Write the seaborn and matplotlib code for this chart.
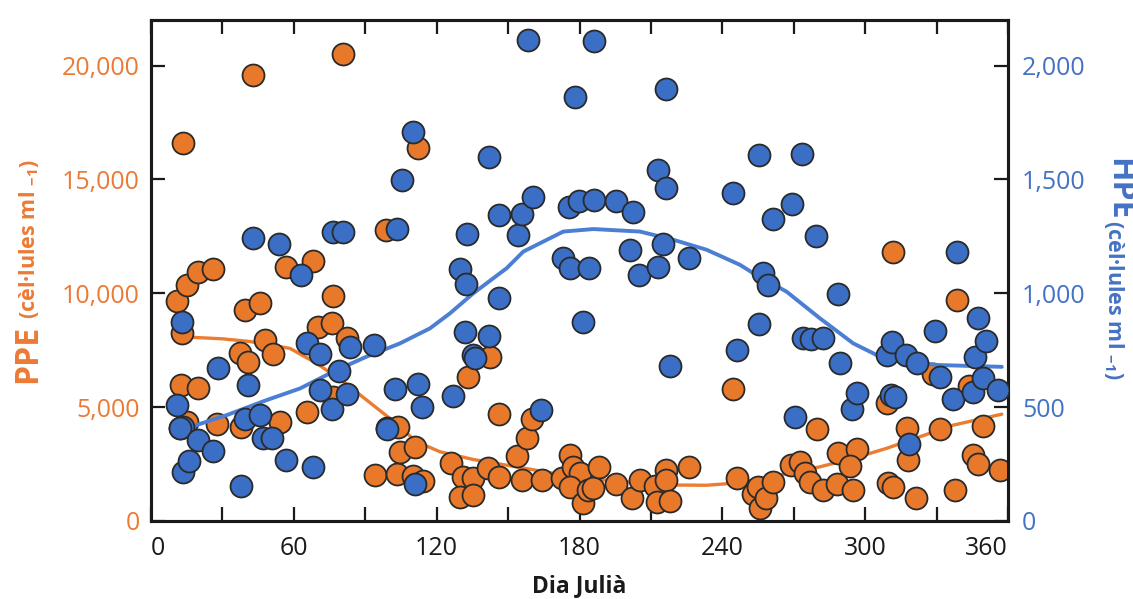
import numpy as np
import pandas as pd
import matplotlib
matplotlib.use("Agg")
import matplotlib.pyplot as plt
import seaborn as sns
from matplotlib.ticker import FixedLocator, FuncFormatter

sns.set_theme(style="white")
plt.rcParams['font.family'] = ['Open Sans', 'DejaVu Sans']
plt.rcParams['mathtext.fontset'] = 'custom'
plt.rcParams['mathtext.rm'] = 'Open Sans'
plt.rcParams['mathtext.bf'] = 'Open Sans:bold'

# ---------------- data ----------------
ppe_day = [10.8, 13.4, 15.0, 12.9, 12.5, 19.9, 12.2, 15.0, 19.7, 25.9,
           27.6, 37.4, 40.9, 39.5, 45.8, 42.8, 38.0, 47.9, 51.1, 54.2,
           56.9, 65.7, 68.0, 70.3, 75.9, 76.5, 76.3, 80.6, 82.2, 98.7,
           94.1, 103.2, 110.2, 114.4, 99.0, 103.9, 104.6, 110.9, 112.0, 126.0,
           131.2, 135.4, 129.8, 135.4, 133.3, 141.7, 142.4, 146.3, 146.3, 153.9,
           155.7, 158.0, 159.9, 164.1, 172.5, 176.0, 177.4, 180.2, 176.0, 181.5,
           183.4, 185.7, 188.3, 195.3, 201.9, 205.4, 211.7, 216.3, 216.3, 212.4,
           218.0, 226.0, 244.6, 246.0, 253.0, 255.0, 255.7, 258.5, 261.3, 269.0,
           272.6, 274.7, 276.8, 279.6, 282.4, 288.0, 294.7, 288.7, 296.4, 293.6,
           309.0, 309.5, 311.8, 311.6, 317.4, 318.0, 321.3, 328.6, 331.4, 337.7,
           338.7, 343.5, 345.4, 347.5, 349.6, 356.6]
ppe_val = [9680, 16600, 10370, 8270, 5970, 5850, 4070, 4360, 10950, 11060,
           4280, 7360, 7000, 9270, 9590, 19600, 4130, 7950, 7330, 4360,
           11150, 4800, 11400, 8540, 8680, 9860, 5460, 20500, 8020, 12800,
           2010, 2050, 1970, 1760, 4070, 4140, 3040, 3260, 16400, 2550,
           1940, 1870, 1060, 1160, 6340, 2310, 7190, 4690, 1940, 2850,
           1790, 3630, 4460, 1820, 1870, 2890, 2380, 2090, 1500, 790,
           1380, 1450, 2350, 1610, 1030, 1790, 1530, 2230, 1790, 840,
           880, 2350, 5800, 1890, 1200, 1500, 550, 1030, 1720, 2450,
           2600, 2090, 1720, 4020, 1380, 1610, 1380, 2970, 3140, 2410,
           5160, 1660, 1500, 11800, 4070, 2670, 1030, 6440, 4020, 1380,
           9710, 5950, 2890, 2490, 4170, 2260]

hpe_day = [10.9, 12.9, 13.6, 12.0, 13.6, 16.1, 19.9, 25.9, 28.0, 37.7,
           39.5, 40.9, 42.8, 45.8, 47.2, 50.7, 53.8, 56.7, 63.2, 65.7,
           67.9, 71.0, 71.0, 75.9, 76.4, 79.1, 80.6, 82.2, 83.6, 93.7,
           99.0, 102.5, 103.3, 105.4, 110.0, 110.9, 112.0, 114.0, 127.0, 130.0,
           132.3, 132.7, 131.9, 135.4, 136.1, 142.0, 142.1, 146.0, 146.3, 154.0,
           155.8, 158.2, 160.4, 164.0, 173.0, 175.6, 176.0, 178.0, 179.8, 181.3,
           184.0, 186.0, 186.0, 195.3, 201.2, 202.4, 205.2, 213.0, 213.0, 215.0,
           216.3, 216.3, 218.0, 226.0, 244.4, 246.0, 255.4, 255.5, 257.2, 259.3,
           261.3, 269.2, 270.5, 273.4, 274.0, 277.4, 279.3, 282.3, 288.7, 289.4,
           294.3, 296.4, 309.0, 311.0, 311.4, 312.5, 317.1, 318.5, 321.6, 329.3,
           331.4, 337.0, 338.5, 345.4, 346.0, 347.5, 349.6, 350.7, 355.9]
hpe_val = [509, 875, 414, 407, 216, 263, 355, 308, 670, 153,
           446, 597, 1244, 465, 363, 363, 1217, 270, 1080, 780,
           238, 733, 575, 491, 1270, 659, 1270, 557, 763, 773,
           402, 578, 1283, 1499, 1710, 161, 601, 502, 548, 1108,
           1041, 1261, 832, 729, 714, 1600, 813, 1342, 978, 1254,
           1349, 2112, 1421, 487, 1157, 1381, 1112, 1860, 1403, 876,
           1112, 1411, 2107, 1406, 1191, 1355, 1080, 1540, 1117, 1217,
           1464, 1899, 682, 1156, 1440, 751, 1606, 864, 1088, 1037,
           1327, 1393, 455, 1612, 802, 799, 1252, 802, 996, 692,
           494, 560, 729, 553, 788, 546, 729, 340, 692, 836,
           631, 534, 1182, 568, 722, 893, 626, 791, 575]

ppe_line_day = [13, 16.4, 30, 41.6, 58.4, 69.6, 80.8, 90.6, 100.4, 111.6,
                121.4, 135.4, 149.4, 163.4, 177.4, 191.4, 205.4, 219.4, 233.4, 245,
                253, 267, 281, 295, 309, 323, 337, 357.4]
ppe_line_val = [8150, 8070, 8000, 7880, 7580, 6920, 6120, 5310, 4500, 3480,
                3040, 2700, 2450, 2200, 1940, 1790, 1670, 1580, 1570, 1660,
                1790, 2080, 2380, 2750, 3190, 3700, 4210, 4690]

hpe_line_day = [17, 31.8, 48.6, 62.6, 76.6, 90.6, 104.6, 117.2, 125.6, 135.4,
                149.4, 156.4, 173.2, 185.8, 205.4, 219.4, 233.4, 247.4, 253, 267,
                281, 295, 304.8, 316, 330, 357.4]
hpe_line_val = [414, 465, 531, 582, 656, 722, 780, 846, 912, 1000,
                1110, 1183, 1271, 1282, 1271, 1235, 1191, 1125, 1088, 1007,
                890, 780, 729, 707, 685, 677]

x_ticks = [0, 60, 120, 180, 240, 300, 360]
ppe_ticks = [0, 5000, 10000, 15000, 20000]
hpe_ticks = [0, 500, 1000, 1500, 2000]

# ---------------- styling ----------------
ORANGE = '#E8792B'
BLUE = '#3B6FC6'
ORANGE_LINE = '#EC7C30'
BLUE_LINE = '#4A7FD4'
ORANGE_TXT = '#EC7A36'
BLUE_TXT = '#4472C4'
EDGE = '#2a2a2a'
INK = '#1a1a1a'

W, H = 1133, 599
fig = plt.figure(figsize=(W / 100, H / 100), dpi=100)
ax = fig.add_axes([151 / W, 1 - 521 / H, (1008 - 151) / W, (521 - 20) / H])
ax2 = ax.twinx()

sns.lineplot(x=ppe_line_day, y=ppe_line_val, ax=ax, color=ORANGE_LINE,
             linewidth=2.4, estimator=None, zorder=2)
sns.scatterplot(x=ppe_day, y=ppe_val, ax=ax, s=250, color=ORANGE,
                edgecolor=EDGE, linewidth=1.3, zorder=3)
sns.lineplot(x=hpe_line_day, y=hpe_line_val, ax=ax2, color=BLUE_LINE,
             linewidth=2.8, estimator=None, zorder=2)
sns.scatterplot(x=hpe_day, y=hpe_val, ax=ax2, s=250, color=BLUE,
                edgecolor=EDGE, linewidth=1.3, zorder=3)

ax.set_xlim(0, 360)
ax.set_ylim(0, 22000)
ax2.set_ylim(0, 2200)

ax.xaxis.set_major_locator(FixedLocator(x_ticks))
ax.xaxis.set_minor_locator(FixedLocator([30, 90, 150, 210, 270, 330]))
ax.set_xticklabels([str(v) for v in x_ticks])
ax.yaxis.set_major_locator(FixedLocator(ppe_ticks))
ax.yaxis.set_major_formatter(FuncFormatter(lambda v, p: f"{int(v):,}"))
ax2.yaxis.set_major_locator(FixedLocator(hpe_ticks))
ax2.yaxis.set_major_formatter(FuncFormatter(lambda v, p: f"{int(v):,}"))

for a in (ax, ax2):
    a.set_xlabel('')
    a.set_ylabel('')
    for s in a.spines.values():
        s.set_color(INK)
        s.set_linewidth(2.2)
    a.grid(False)

ax.tick_params(axis='x', which='both', direction='in', length=10, width=1.6,
               color=INK, top=True, bottom=True, labelsize=18, labelcolor=INK, pad=11)
ax.tick_params(axis='y', which='both', direction='in', length=10, width=1.6,
               color=INK, left=True, right=False, labelsize=18,
               labelcolor=ORANGE_TXT, pad=8)
ax2.tick_params(axis='y', which='both', direction='in', length=10, width=1.6,
                color=INK, right=True, labelsize=18, labelcolor=BLUE_TXT, pad=10)

xt = ax.get_xticklabels()
xt[0].set_horizontalalignment('left')
xt[-1].set_horizontalalignment('right')

# axis titles
fig.text(579.5 / W, 1 - 592 / H, 'Dia Julià', ha='center', va='baseline',
         fontsize=16.5, fontweight='bold', color=INK)

fig.text(36 / W, 1 - 383 / H, 'PPE', rotation=90, rotation_mode='anchor',
         ha='left', va='baseline', fontsize=23, fontweight='bold', color=ORANGE_TXT)
fig.text(35 / W, 1 - 319 / H, r'(cèl·lules ml $\mathbf{_{-1}}$)', rotation=90,
         rotation_mode='anchor', ha='left', va='baseline', fontsize=15.5,
         fontweight='bold', color=ORANGE_TXT)

fig.text(1110 / W, 1 - 158 / H, 'HPE', rotation=-90, rotation_mode='anchor',
         ha='left', va='baseline', fontsize=23, fontweight='bold', color=BLUE_TXT)
fig.text(1108 / W, 1 - 220 / H, r'(cèl·lules ml $\mathbf{_{-1}}$)', rotation=-90,
         rotation_mode='anchor', ha='left', va='baseline', fontsize=15.5,
         fontweight='bold', color=BLUE_TXT)

fig.savefig('out.png', dpi=100)
